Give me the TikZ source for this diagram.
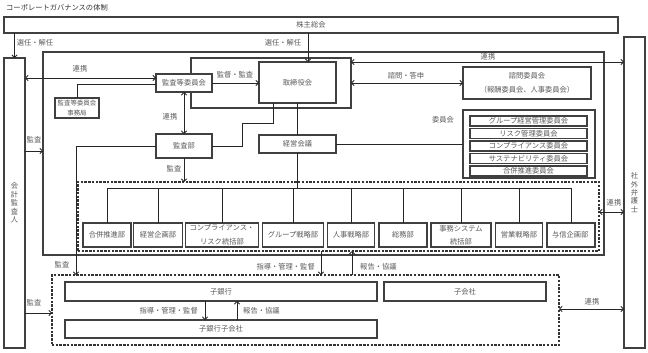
\documentclass[tikz,border=0pt]{standalone}
\usepackage{fontspec}
\setmainfont{Noto Sans CJK JP}
\usetikzlibrary{arrows.meta,positioning}

\begin{document}
\begin{tikzpicture}[
    x=0.03cm,
    y=-0.03cm,
    wh/.style 2 args={
        minimum width=#1*0.03cm,
        minimum height=#2*0.03cm
    },
    box/.style={
        draw=black!75,
        fill=white,
        line width=0.9pt,
        inner sep=0pt,
        outer sep=0pt,
        text=black!65
    },
    dashbox/.style={
        draw=black!80,
        line width=0.9pt,
        dash pattern=on 2pt off 1.2pt,
        inner sep=0pt,
        outer sep=0pt
    },
    link/.style={draw=black!85, line width=0.7pt},
    arr/.style={link, -{Straight Barb[length=2.2pt,width=4.5pt]}},
    dbl/.style={link, {Straight Barb[length=2.2pt,width=4.5pt]}-{Straight Barb[length=2.2pt,width=4.5pt]}},
    lbl/.style={text=black!65, inner sep=0pt},
    vtext/.style={align=center, font=\fontsize{6.2}{7.2}\selectfont},
    twoline/.style={align=center, font=\fontsize{6.2}{11.5}\selectfont},
    every node/.style={font=\fontsize{6.2}{7}\selectfont}
]
\useasboundingbox (0,0) rectangle (648,352);

\node[lbl, anchor=west, text=black!80] (title) at (6,8) {コーポレートガバナンスの体制};

% Outer frames
\node[box, wh={561}{203}] (group) at (323.5,153.5) {};
\node[box, wh={160}{50}] (boardframe) at (271,83) {};

% Shareholders, auditor and lawyers
\node[box, wh={614}{16}] (soukai) at (311,25) {株主総会};
\node[box, vtext, wh={21}{290}] (kaikei) at (14.5,203) {会\\計\\監\\査\\人};
\node[box, vtext, wh={21}{311}] (bengo) at (634.5,192.5) {社\\外\\弁\\護\\士};

% Board and its bodies
\node[box, wh={77}{41}] (board) at (297.5,82.5) {取締役会};
\node[box, wh={56}{18}] (auditcom) at (184,83) {監査等委員会};
\node[box, align=center, font=\fontsize{5.5}{9}\selectfont, wh={44}{20}] (office) at (77,108) {監査等委員会\\事務局};
\node[box, wh={56}{24}] (auditdept) at (184,146) {監査部};
\node[box, wh={77}{18}] (mgmt) at (297.5,144) {経営会議};
\node[box, twoline, wh={128}{32}] (advisory) at (527,83) {諮問委員会\\（報酬委員会、人事委員会）};
\node[box, wh={132}{68}] (committees) at (529,144) {};
\node[lbl] (comlabel) at (443,120) {委員会};

% Committees, top to bottom
\foreach \name [count=\i from 0] in {
    グループ経営管理委員会,
    リスク管理委員会,
    コンプライアンス委員会,
    サステナビリティ委員会,
    合併推進委員会
}{
    \node[box, wh={117}{10}] (com\i) at (528.5,121+12.5*\i) {\name};
}

% Departments
\node[dashbox, wh={521}{69}] (depts) at (338.5,216.5) {};
\coordinate (bus) at (297,188);
\foreach \cx/\w/\name [count=\i] in {
    107/48/合併推進部,
    158/49/経営企画部,
    222/73/{コンプライアンス・\\リスク統括部},
    293/61/グループ戦略部,
    351/47/人事戦略部,
    403/48/総務部,
    461/60/{事務システム\\統括部},
    519/47/営業戦略部,
    571/48/与信企画部
}{
    \node[box, twoline, wh={\w}{24}] (d\i) at (\cx,235) {\name};
    \draw[link] (d\i.north) -- (d\i.north |- bus);
}
\draw[link] (bus -| d1.north) -- (bus -| d9.north);

% Subsidiaries
\node[dashbox, wh={507}{70}] (subs) at (305.5,310) {};
\node[box, wh={312}{19}] (bank) at (221,291.5) {子銀行};
\node[box, wh={162}{19}] (subco) at (465,291.5) {子会社};
\node[box, wh={312}{18}] (banksub) at (221,329) {子銀行子会社};

% Election by shareholders
\coordinate (xa) at (308,0);
\draw[arr] (soukai.south -| kaikei.center) -- (kaikei.north);
\node[lbl] (l1) at (35,43) {選任・解任};
\draw[arr] (soukai.south -| xa) -- (board.north -| xa);
\node[lbl] (l2) at (283,43) {選任・解任};

% Audit committee links
\coordinate (ya) at (0,78);
\draw[dbl] (kaikei.east |- ya) -- (auditcom.west |- ya);
\node[lbl] (l3) at (80,69) {連携};
\coordinate (yb) at (0,84);
\draw[link] (office.north) |- (auditcom.west |- yb);
\draw[arr] (auditcom.east) -- (board.west |- auditcom.east);
\node[lbl] (l4) at (235,75) {監督・監査};
\draw[dbl] (auditcom.south) -- (auditdept.north);
\node[lbl] (l5) at (170,117) {連携};
\coordinate (xb) at (242,123);
\coordinate (xc) at (273,0);
\draw[link] (auditdept.east) -| (xb) -| (board.south -| xc);

% Management lines
\draw[link] (board.south) -- (mgmt.north);
\draw[link] (mgmt.east) -- (committees.west |- mgmt.east);
\draw[link] (mgmt.south) -- (mgmt.south |- bus);

% Advisory and lawyers
\draw[dbl] (boardframe.east |- advisory.west) -- (advisory.west);
\node[lbl] (l6) at (406,76) {諮問・答申};
\coordinate (yc) at (0,62);
\draw[dbl] (boardframe.east |- yc) -- (bengo.west |- yc);
\node[lbl] (l7) at (488,57) {連携};

% Audits
\coordinate (yd) at (0,151);
\draw[arr] (kaikei.east |- yd) -- (group.west |- yd);
\node[lbl] (l8) at (34,140) {監査};
\draw[arr] (auditdept.south) -- (auditdept.south |- depts.north);
\node[lbl] (l9) at (174,169) {監査};
\coordinate (xd) at (76,0);
\draw[arr] (auditdept.west) -| (subs.north -| xd);
\node[lbl] (l10) at (62,265) {監査};
\coordinate (ye) at (0,313);
\draw[arr] (kaikei.east |- ye) -- (subs.west |- ye);
\node[lbl] (l11) at (34,303) {監査};

% External lawyers
\coordinate (yf) at (0,212);
\draw[dbl] (depts.east |- yf) -- (bengo.west |- yf);
\node[lbl] (l12) at (614,203) {連携};
\coordinate (yg) at (0,309);
\draw[dbl] (subs.east |- yg) -- (bengo.west |- yg);
\node[lbl] (l13) at (592,302) {連携};

% Group guidance and reports
\coordinate (xe) at (321,0);
\coordinate (xf) at (352,0);
\draw[arr] (depts.south -| xe) -- (subs.north -| xe);
\node[lbl, anchor=east] (l14) at (315,267) {指導・管理・監督};
\draw[arr] (subs.north -| xf) -- (depts.south -| xf);
\node[lbl, anchor=west] (l15) at (360,267) {報告・協議};
\coordinate (xg) at (205,0);
\coordinate (xh) at (237,0);
\draw[arr] (bank.south -| xg) -- (banksub.north -| xg);
\node[lbl, anchor=east] (l16) at (198,311) {指導・管理・監督};
\draw[arr] (banksub.north -| xh) -- (bank.south -| xh);
\node[lbl, anchor=west] (l17) at (243,311) {報告・協議};
\end{tikzpicture}
\end{document}
